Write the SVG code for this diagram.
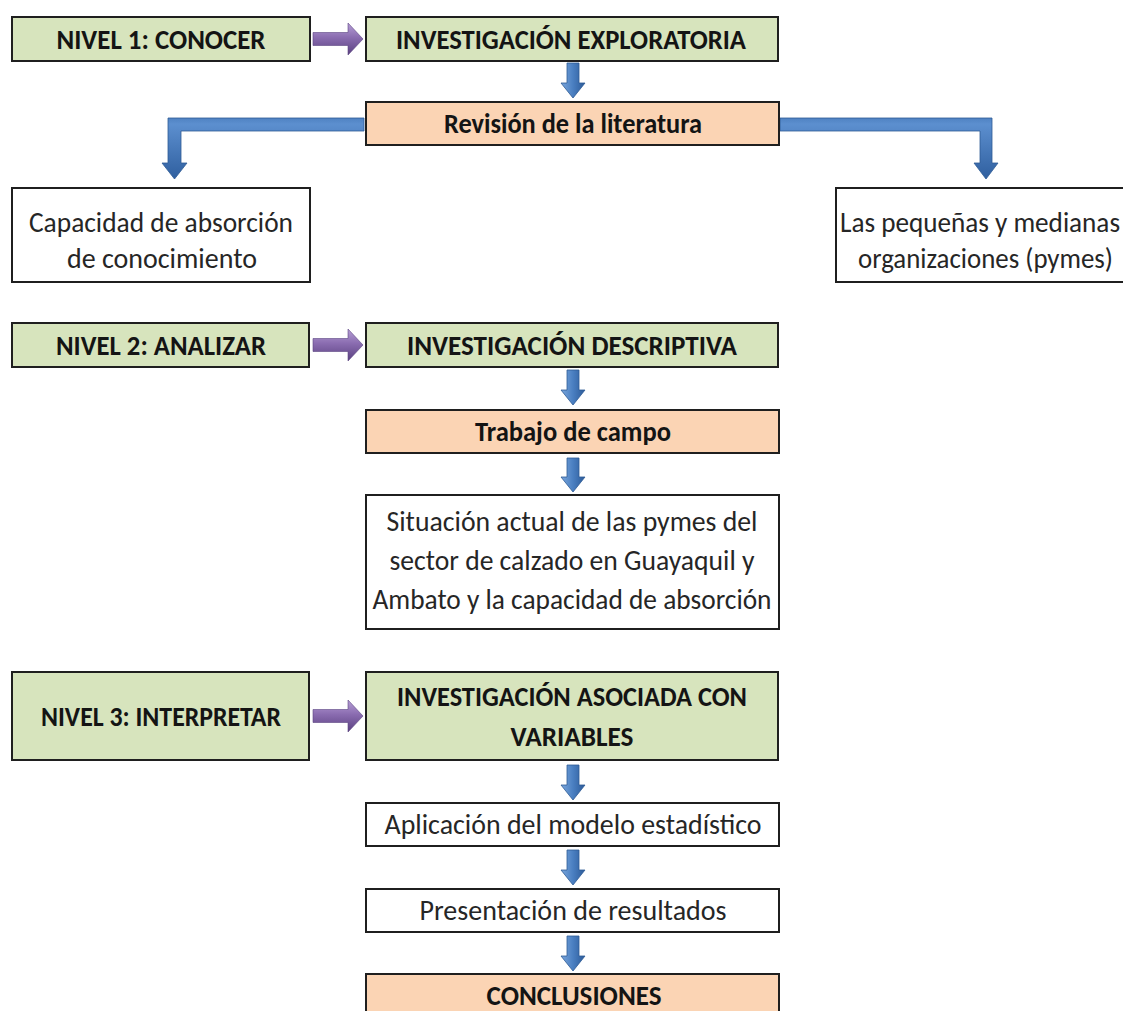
<svg xmlns="http://www.w3.org/2000/svg" width="1123" height="1011" viewBox="0 0 1123 1011">
  <defs>
    <linearGradient id="gBlue" x1="0" y1="0" x2="1" y2="0">
      <stop offset="0" stop-color="#7aa6dc"/>
      <stop offset="0.5" stop-color="#4a7fc1"/>
      <stop offset="1" stop-color="#2c5a98"/>
    </linearGradient>
    <linearGradient id="gBlueH" x1="0" y1="0" x2="0" y2="1">
      <stop offset="0" stop-color="#4f82c2"/>
      <stop offset="0.1" stop-color="#5c8fcf"/>
      <stop offset="1" stop-color="#2f5f9f"/>
    </linearGradient>
    <linearGradient id="gPurple" x1="0" y1="0" x2="0" y2="1">
      <stop offset="0" stop-color="#b79fd6"/>
      <stop offset="0.45" stop-color="#8a6cb0"/>
      <stop offset="1" stop-color="#5a4080"/>
    </linearGradient>
    <style>
      .green { fill: #d7e4bd; stroke: #1f1f1f; stroke-width: 2; }
      .orange { fill: #fbd4b4; stroke: #1f1f1f; stroke-width: 2; }
      .white { fill: #ffffff; stroke: #1f1f1f; stroke-width: 2; }
      .b { font-family: Carlito, "Liberation Sans Narrow", "Liberation Sans", sans-serif; font-weight: bold; font-size: 28px; fill: #141414; text-anchor: middle; }
      .r { font-family: Carlito, "Liberation Sans Narrow", "Liberation Sans", sans-serif; font-size: 28px; fill: #262626; text-anchor: middle; }
      .blue { fill: url(#gBlue); stroke: #2d5a94; stroke-width: 0.8; }
      .elbow { fill: url(#gBlueH); stroke: #2d5a94; stroke-width: 0.8; }
      .purple { fill: url(#gPurple); stroke: #5b4382; stroke-width: 0.6; }
    </style>
  </defs>
  <rect x="0" y="0" width="1123" height="1011" fill="#ffffff"/>

  <g id="connectors">
    <polygon class="purple" points="313,32.5 348,32.5 348,23 363,39 348,55 348,45.5 313,45.5"/>
    <polygon class="purple" points="313,338.5 348,338.5 348,329 363,345 348,361 348,351.5 313,351.5"/>
    <polygon class="purple" points="313,709.5 348,709.5 348,700 363,716 348,732 348,722.5 313,722.5"/>
    <polygon class="blue" points="567,63 579,63 579,83 585,83 573,98 561,83 567,83"/>
    <polygon class="blue" points="567,370 579,370 579,390 585,390 573,405 561,390 567,390"/>
    <polygon class="blue" points="567,458 579,458 579,477 585,477 573,492 561,477 567,477"/>
    <polygon class="blue" points="567,765 579,765 579,785 585,785 573,800 561,785 567,785"/>
    <polygon class="blue" points="567,850 579,850 579,870 585,870 573,885 561,870 567,870"/>
    <polygon class="blue" points="567,936 579,936 579,956 585,956 573,971 561,956 567,956"/>
    <polygon class="elbow" points="364,118 168,118 168,163 162,163 174.5,179 187,163 181,163 181,131 364,131"/>
    <polygon class="elbow" points="780,118 992,118 992,163 998,163 986,179 974,163 980,163 980,131 780,131"/>
  </g>

  <g id="nivel1">
    <rect class="green" x="12" y="17" width="298" height="44"/>
    <text class="b" x="161" y="49" textLength="209" lengthAdjust="spacingAndGlyphs">NIVEL 1: CONOCER</text>
  </g>
  <g id="inv-exploratoria">
    <rect class="green" x="366" y="17" width="412" height="44"/>
    <text class="b" x="571" y="49" textLength="350" lengthAdjust="spacingAndGlyphs">INVESTIGACIÓN EXPLORATORIA</text>
  </g>
  <g id="revision">
    <rect class="orange" x="366" y="102" width="413" height="43"/>
    <text class="b" x="573" y="133" textLength="258" lengthAdjust="spacingAndGlyphs">Revisión de la literatura</text>
  </g>
  <g id="capacidad">
    <rect class="white" x="12" y="188" width="298" height="94"/>
    <text class="r" x="161" y="232" textLength="264" lengthAdjust="spacingAndGlyphs">Capacidad de absorción</text>
    <text class="r" x="162" y="268" textLength="190" lengthAdjust="spacingAndGlyphs">de conocimiento</text>
  </g>
  <g id="pymes">
    <rect class="white" x="836" y="188" width="300" height="94"/>
    <text class="r" x="840" y="232" style="text-anchor:start" textLength="280" lengthAdjust="spacingAndGlyphs">Las pequeñas y medianas</text>
    <text class="r" x="858" y="268" style="text-anchor:start" textLength="255" lengthAdjust="spacingAndGlyphs">organizaciones (pymes)</text>
  </g>

  <g id="nivel2">
    <rect class="green" x="12" y="323" width="297" height="44"/>
    <text class="b" x="161" y="355" textLength="210" lengthAdjust="spacingAndGlyphs">NIVEL 2: ANALIZAR</text>
  </g>
  <g id="inv-descriptiva">
    <rect class="green" x="366" y="323" width="412" height="44"/>
    <text class="b" x="572" y="355" textLength="330" lengthAdjust="spacingAndGlyphs">INVESTIGACIÓN DESCRIPTIVA</text>
  </g>
  <g id="trabajo">
    <rect class="orange" x="366" y="410" width="413" height="43"/>
    <text class="b" x="573" y="441" textLength="196" lengthAdjust="spacingAndGlyphs">Trabajo de campo</text>
  </g>
  <g id="situacion">
    <rect class="white" x="366" y="495" width="413" height="134"/>
    <text class="r" x="572" y="531" textLength="371" lengthAdjust="spacingAndGlyphs">Situación actual de las pymes del</text>
    <text class="r" x="572" y="570" textLength="365" lengthAdjust="spacingAndGlyphs">sector de calzado en Guayaquil y</text>
    <text class="r" x="572" y="609" textLength="399" lengthAdjust="spacingAndGlyphs">Ambato y la capacidad de absorción</text>
  </g>

  <g id="nivel3">
    <rect class="green" x="12" y="672" width="297" height="88"/>
    <text class="b" x="161" y="726" textLength="240" lengthAdjust="spacingAndGlyphs">NIVEL 3: INTERPRETAR</text>
  </g>
  <g id="inv-asociada">
    <rect class="green" x="366" y="672" width="412" height="88"/>
    <text class="b" x="572" y="706" textLength="350" lengthAdjust="spacingAndGlyphs">INVESTIGACIÓN ASOCIADA CON</text>
    <text class="b" x="572" y="746" textLength="123" lengthAdjust="spacingAndGlyphs">VARIABLES</text>
  </g>
  <g id="aplicacion">
    <rect class="white" x="366" y="803" width="413" height="43"/>
    <text class="r" x="573" y="834" textLength="377" lengthAdjust="spacingAndGlyphs">Aplicación del modelo estadístico</text>
  </g>
  <g id="presentacion">
    <rect class="white" x="366" y="889" width="413" height="43"/>
    <text class="r" x="573" y="920" textLength="307" lengthAdjust="spacingAndGlyphs">Presentación de resultados</text>
  </g>
  <g id="conclusiones">
    <rect class="orange" x="366" y="974" width="413" height="44"/>
    <text class="b" x="574" y="1005" textLength="175" lengthAdjust="spacingAndGlyphs">CONCLUSIONES</text>
  </g>
</svg>
